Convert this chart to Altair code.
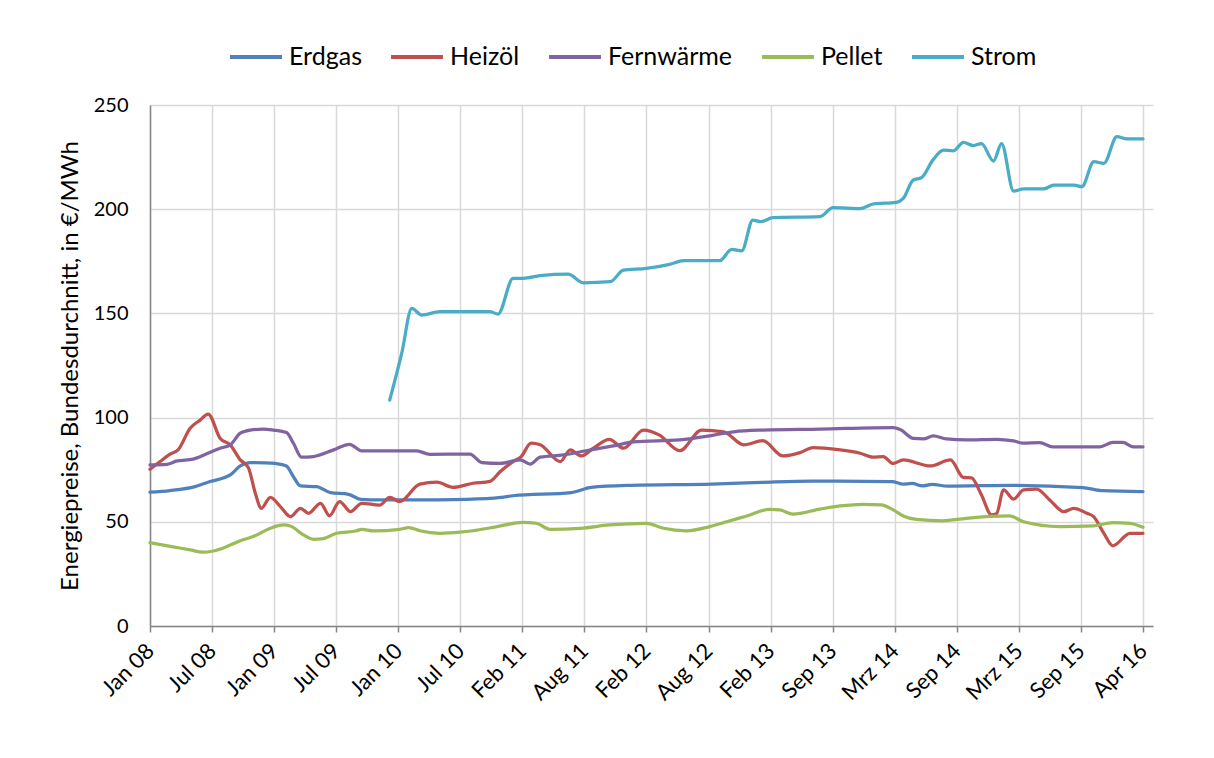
import altair as alt
import pandas as pd

series_names = ["Erdgas", "Heizöl", "Fernwärme", "Pellet", "Strom"]
series_colors = ["#4F81BD", "#C0504D", "#8064A2", "#9BBB59", "#4BACC6"]

tick_labels = ["Jan 08", "Jul 08", "Jan 09", "Jul 09", "Jan 10", "Jul 10", "Feb 11", "Aug 11",
               "Feb 12", "Aug 12", "Feb 13", "Sep 13", "Mrz 14", "Sep 14", "Mrz 15", "Sep 15", "Apr 16"]

# month index (0 = Jan 08) and price in EUR/MWh
erdgas_m = [0, 2, 4.5, 6, 8, 9, 10, 11.5, 12.5, 13.6, 14.3, 15, 16.6, 18, 19.8, 21, 23, 26, 31.6, 35,
            36.2, 42, 44, 48, 56, 61, 66, 74, 75, 76, 77, 78, 79.5, 86, 93, 95, 99]
erdgas_v = [64.2, 65, 66.9, 69.3, 72.5, 76.8, 78.4, 78.3, 78, 76.8, 71.6, 67.2, 66.9, 64, 63.2, 60.8, 60.5,
            60.5, 60.8, 61.7, 62.5, 64, 66.5, 67.5, 68.1, 68.9, 69.5, 69.3, 68.1, 68.4, 67.2, 68, 67.1,
            67.5, 66.4, 64.9, 64.5]

heizoel_m = [0, 1, 2, 2.8, 4, 5, 5.8, 7, 8, 9, 9.8, 10.5, 11.1, 12, 13, 14, 15, 15.8, 17, 17.9, 18.9, 20,
             21.1, 22.9, 23.9, 24.9, 26.9, 28.6, 30.2, 32.2, 33.9, 34.9, 36.2, 37, 38, 38.9, 40.9, 41.9,
             43, 44.2, 45.8, 47.2, 49.2, 50.8, 52.8, 55, 57.2, 59.2, 61.1, 63.1, 64.8, 66.1, 68.8, 70.8,
             72.1, 73.1, 74.1, 75.1, 77.8, 79.8, 81.1, 81.9, 82.9, 83.9, 84.4, 85.1, 86.1, 87.1, 88.4,
             89.7, 91.1, 92.1, 93.4, 94.1, 95.1, 96, 97.7, 99]
heizoel_v = [75.2, 78.9, 82.5, 84.5, 94.9, 98.8, 101.7, 90, 86.9, 79.7, 76.1, 63.7, 56.5, 61.7, 57.3, 52.5,
             56.5, 54.1, 58.9, 52.9, 59.7, 54.9, 58.9, 58, 61.7, 59.7, 68.1, 69, 66.5, 68.5, 69.4, 74,
             78.9, 81.3, 87.7, 87, 78.9, 84.5, 81.6, 85.3, 89.6, 85.3, 94, 91.6, 84.1, 94, 93.2, 86.9,
             88.9, 81.6, 83.2, 85.6, 84.5, 82.9, 81, 81.3, 78, 79.7, 76.8, 79.7, 71.3, 71.1, 62.9, 53.3,
             53.9, 65.3, 60.9, 65.3, 65.7, 60.5, 54.9, 56.5, 54.1, 52.4, 44.5, 38.5, 44.5, 44.5]

fernwaerme_m = [0, 1.7, 2.7, 4.3, 5.6, 7, 8, 9, 10, 11.3, 12.3, 13.6, 14.3, 15.1, 16.3, 18.3, 19.9, 21.1,
                26.6, 27.9, 31.9, 33.1, 34.9, 36.9, 37.9, 38.9, 41.2, 43.5, 46.2, 48.2, 52.8, 56.2, 58.2,
                61.1, 66.8, 74.1, 74.8, 76.1, 77.1, 78.1, 79.4, 81.4, 84.4, 86.1, 87.1, 88.7, 90, 94.7,
                96, 97, 98, 99]
fernwaerme_v = [77.3, 77.6, 79.2, 80.1, 82.5, 85.3, 86.9, 92.5, 94, 94.5, 94, 92.8, 87.7, 81, 81.3, 84.5,
                87.2, 84, 84, 82.4, 82.5, 78.4, 78, 79.7, 77.7, 81, 82.1, 84.1, 86.4, 88.3, 89.3, 91.6,
                93.2, 94, 94.5, 95.2, 94.3, 90, 89.8, 91.2, 89.8, 89.3, 89.6, 88.8, 87.7, 88, 86, 86,
                88.1, 88.1, 86, 86]

pellet_m = [0, 2.3, 4, 5.3, 6.3, 7.6, 9, 10.3, 12, 13.3, 14, 15.3, 16.3, 17.1, 18.6, 20.6, 21.1, 22.3,
            24.9, 25.8, 26.9, 28.9, 30.9, 32.2, 34.6, 37.2, 38.5, 39.9, 42.9, 45.8, 49.5, 51.2, 53.5,
            55.8, 57.5, 59.5, 61.8, 62.8, 64.1, 66.8, 68.8, 71.1, 72.9, 74.1, 75.1, 76.4, 79, 81.4,
            85.7, 87.1, 90.7, 94.1, 96, 97.7, 99]
pellet_v = [40, 38, 36.5, 35.4, 36, 38, 40.9, 42.9, 46.9, 48.5, 48, 43.7, 41.6, 41.8, 44.5, 45.7, 46.4,
            45.6, 46.4, 47.2, 45.7, 44.5, 45, 45.7, 47.7, 49.7, 49.3, 46.4, 46.9, 48.5, 49.3, 46.9, 45.7,
            47.7, 50, 52.8, 56, 55.7, 53.7, 56.1, 57.6, 58.4, 58.1, 55.7, 52.8, 51.2, 50.5, 51.7, 52.8,
            50, 47.7, 48.1, 49.6, 49.3, 47.4]

strom_m = [23.9, 25.1, 26.1, 27.1, 28.9, 33.9, 34.7, 36.2, 37.2, 38.9, 41.7, 43.2, 45.9, 47.2, 49.5,
           51.8, 53.2, 56.8, 58, 59, 60.1, 60.9, 62.1, 66.8, 68.1, 70.8, 72.1, 74.4, 75.1, 76.1, 76.9,
           78.1, 79.1, 80.1, 81.1, 82.1, 82.9, 84.1, 84.9, 86.1, 87.1, 89.1, 90.1, 92.1, 92.9, 94.1,
           95.1, 96.4, 97.4, 99]
strom_v = [108.4, 130.9, 152.4, 149.2, 150.8, 150.8, 149.7, 166.8, 166.8, 168.1, 168.8, 164.7, 165.2,
           170.8, 171.6, 173.5, 175.3, 175.3, 180.7, 180, 194.8, 194, 195.9, 196.4, 200.7, 200.3, 202.5,
           203.3, 205.2, 214, 215.1, 223.9, 228.4, 228, 232.1, 230.5, 231.5, 223.1, 231.5, 208.7, 209.7,
           209.7, 211.6, 211.6, 210.8, 222.8, 222, 234.8, 233.7, 233.7]

rows = []
for name, ms, vs in zip(series_names,
                        [erdgas_m, heizoel_m, fernwaerme_m, pellet_m, strom_m],
                        [erdgas_v, heizoel_v, fernwaerme_v, pellet_v, strom_v]):
    for m, v in zip(ms, vs):
        rows.append({"Serie": name, "Monat": m, "Preis": v})
df = pd.DataFrame(rows)

tick_vals = [round(k * 99 / 16, 4) for k in range(17)]
label_array = "[" + ",".join("'" + t + "'" for t in tick_labels) + "]"

FONT = "Lato"
GRID = "#D9D9D9"
AXIS = "#868686"
PLOT_W, PLOT_H = 1003, 521
PAD = {"left": 142, "top": 97, "right": 53, "bottom": 124}

lines = alt.Chart(df).mark_line(strokeWidth=3.25, interpolate="monotone", strokeCap="round",
                                strokeJoin="round").encode(
    x=alt.X("Monat:Q",
            scale=alt.Scale(domain=[0, 100], nice=False, zero=False),
            axis=alt.Axis(values=tick_vals, labelExpr=label_array + "[round(datum.value*16/99)]",
                          title=None, labelAngle=-45, labelAlign="right", labelBaseline="middle",
                          labelPadding=15, tickSize=6, tickColor=AXIS, tickWidth=1.5,
                          domainColor=AXIS, domainWidth=1.5, grid=True, gridColor=GRID,
                          gridWidth=1.5, labelFont=FONT, labelFontSize=22, labelColor="#000000",
                          labelOverlap=False, labelFlush=False)),
    y=alt.Y("Preis:Q",
            scale=alt.Scale(domain=[0, 250], nice=False),
            axis=alt.Axis(values=[0, 50, 100, 150, 200, 250], title="Energiepreise, Bundesdurchnitt, in €/MWh",
                          ticks=False, labelPadding=22, domainColor=AXIS, domainWidth=1.5,
                          grid=True, gridColor=GRID, gridWidth=1.5, labelFont=FONT,
                          labelFontSize=20, labelColor="#000000", titleFont=FONT, titleFontSize=24,
                          titleFontWeight="normal", titleColor="#000000", titlePadding=11)),
    color=alt.Color("Serie:N",
                    scale=alt.Scale(domain=series_names, range=series_colors),
                    legend=alt.Legend(title=None, orient="none", legendX=78, legendY=-76,
                                      direction="horizontal", symbolType="stroke",
                                      symbolSize=2700, symbolStrokeWidth=4, labelFont=FONT,
                                      labelFontSize=25, labelColor="#000000", columnPadding=21,
                                      labelOffset=5, labelLimit=300)),
)

chart = alt.layer(lines).properties(
    width=PLOT_W, height=PLOT_H,
    autosize=alt.AutoSizeParams(type="none"),
    padding=PAD,
    background="#FFFFFF",
).configure_view(stroke=None)

chart.save("out.html", embed_options={"renderer": "svg", "actions": False})
